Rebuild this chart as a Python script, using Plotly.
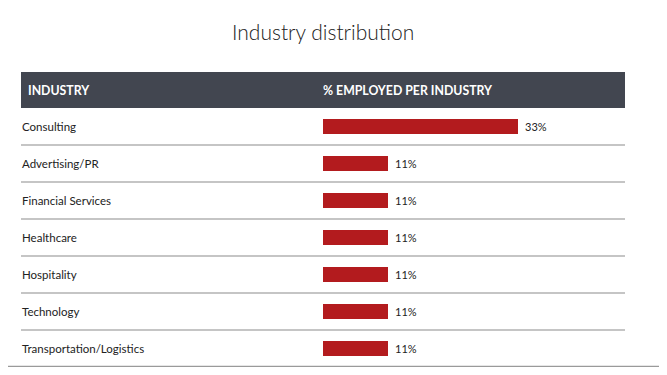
import plotly.graph_objects as go

industries = ["Consulting", "Advertising/PR", "Financial Services", "Healthcare",
              "Hospitality", "Technology", "Transportation/Logistics"]
pct_employed = [33, 11, 11, 11, 11, 11, 11]
header_labels = ["INDUSTRY", "% EMPLOYED PER INDUSTRY"]
title_text = "Industry distribution"

OFF = 8  # page body margin
W, H = 667 - OFF, 375 - 2 * OFF
def px(x):
    return (x - OFF) / W
def py(y):
    return 1 - (y - OFF) / H

TABLE_L, TABLE_R = 21, 625
HEAD_T, HEAD_B = 72, 108
ROW_H = 37
BAR_L = 323
PX_PER_PCT = 195 / 33.0

n = len(industries)
table_bottom = HEAD_B + n * ROW_H

fig = go.Figure()
fig.add_trace(go.Bar(
    x=pct_employed, y=industries, orientation="h",
    marker=dict(color="#B31B1E", line=dict(width=0)),
    width=0.41, cliponaxis=False, hoverinfo="skip",
))

x_range_max = (TABLE_R - BAR_L) / PX_PER_PCT

shapes = []
# card edges
shapes.append(dict(type="line", xref="paper", yref="paper", x0=px(662), x1=px(662),
                   y0=py(0), y1=py(366.5), line=dict(color="#9a9a9a", width=1.5)))
shapes.append(dict(type="line", xref="paper", yref="paper", x0=px(8), x1=px(662),
                   y0=py(366.5), y1=py(366.5), line=dict(color="#9a9a9a", width=1.5)))
# header
shapes.append(dict(type="rect", xref="paper", yref="paper", x0=px(TABLE_L), x1=px(TABLE_R),
                   y0=py(HEAD_B), y1=py(HEAD_T), fillcolor="#424650", line=dict(width=0),
                   layer="below"))
# separators
for i in range(n - 1):
    shapes.append(dict(type="line", xref="paper", yref="y", x0=px(TABLE_L), x1=px(TABLE_R),
                       y0=i + 0.5, y1=i + 0.5, line=dict(color="#8c8c8c", width=1.2)))

annotations = []
annotations.append(dict(text=title_text, xref="paper", yref="paper", x=px(323), y=py(31),
                        xanchor="center", yanchor="middle", showarrow=False,
                        font=dict(family="Lato", size=21, color="#222222", weight=300)))
annotations.append(dict(text="<b>" + header_labels[0] + "</b>", xref="paper", yref="paper",
                        x=px(26), y=py(90), xanchor="left", yanchor="middle", showarrow=False,
                        font=dict(family="Lato", size=12.3, color="#ffffff")))
annotations.append(dict(text="<b>" + header_labels[1] + "</b>", xref="paper", yref="paper",
                        x=px(321), y=py(90), xanchor="left", yanchor="middle", showarrow=False,
                        font=dict(family="Lato", size=12.3, color="#ffffff")))
for name, v in zip(industries, pct_employed):
    annotations.append(dict(text=name, xref="paper", yref="y", x=px(20), y=name,
                            xanchor="left", yanchor="middle", showarrow=False,
                            font=dict(family="Lato", size=11.5, color="#222222")))
    annotations.append(dict(text=f"{v}%", xref="x", yref="y", x=v, y=name, xshift=5,
                            xanchor="left", yanchor="middle", showarrow=False,
                            font=dict(family="Lato", size=11, color="#222222")))

fig.update_layout(
    width=W, height=H, margin=dict(l=0, r=0, t=0, b=0),
    paper_bgcolor="#ffffff", plot_bgcolor="rgba(0,0,0,0)",
    showlegend=False,
    xaxis=dict(domain=[px(BAR_L), px(TABLE_R)], range=[0, x_range_max],
               visible=False, fixedrange=True),
    yaxis=dict(domain=[py(table_bottom), py(HEAD_B)], range=[n - 0.5, -0.5],
               visible=False, fixedrange=True, type="category",
               categoryorder="array", categoryarray=industries),
    shapes=shapes, annotations=annotations,
    font=dict(family="Lato"),
)

fig.write_html("out.html")
